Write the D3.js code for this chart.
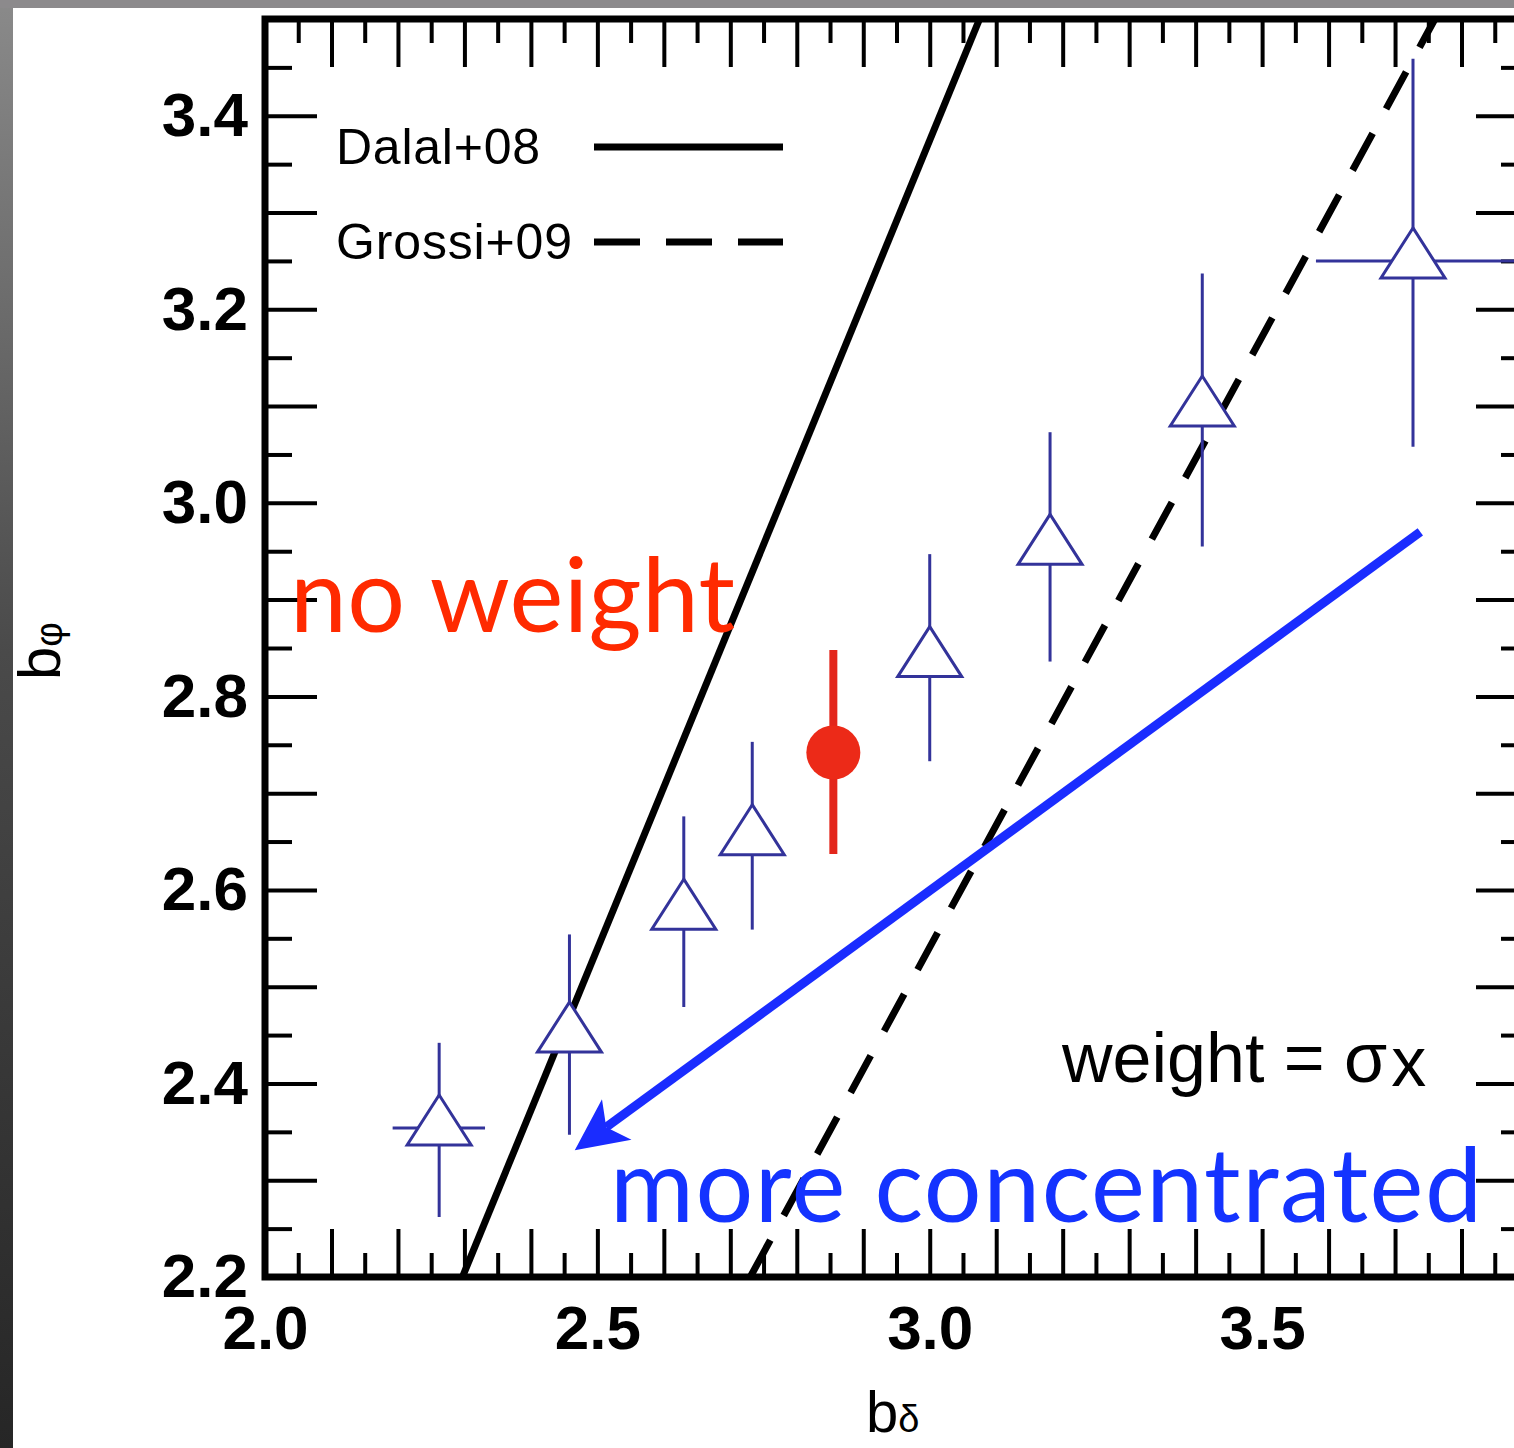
<!DOCTYPE html>
<html>
<head>
<meta charset="utf-8">
<script src="https://cdn.jsdelivr.net/npm/d3@7"></script>
<style>
  html, body { margin: 0; padding: 0; background: #4a4a4a; }
  svg { display: block; }
</style>
</head>
<body>
<svg id="chart" width="1514" height="1448"></svg>
<script>
// bias comparison: b_phi vs b_delta

var xDomain = [2.0, 3.9];
var yDomain = [2.2, 3.5];
var xLabelTicks = [2.0, 2.5, 3.0, 3.5];
var yLabelTicks = [2.2, 2.4, 2.6, 2.8, 3.0, 3.2, 3.4];

// weighted points (open triangles)
var triX   = [2.262, 2.458, 2.630, 2.733, 3.000, 3.181, 3.410, 3.727];
var triY   = [2.354, 2.450, 2.577, 2.654, 2.838, 2.954, 3.097, 3.250];
var triYLo = [2.262, 2.347, 2.479, 2.559, 2.733, 2.836, 2.955, 3.058];
var triYHi = [2.442, 2.554, 2.676, 2.753, 2.947, 3.073, 3.237, 3.459];
var triXLo = [2.192, null, null, null, null, null, null, 3.581];
var triXHi = [2.331, null, null, null, null, null, null, 3.950];

// no weight point (red)
var redX = [2.855], redY = [2.742], redYLo = [2.637], redYHi = [2.848];

// model lines
var dalalX = [2.297, 3.075], dalalY = [2.2, 3.5];
var grossiX = [2.730, 3.760], grossiY = [2.2, 3.5];

// arrow annotation (data coords)
var arrowFrom = [3.738, 2.970], arrowTo = [2.466, 2.331];

var svg = d3.select('#chart');

// background strips + white panel
var grad = svg.append('defs').append('linearGradient')
    .attr('id', 'bg').attr('x1', 0).attr('y1', 0).attr('x2', 0).attr('y2', 1);
grad.append('stop').attr('offset', '0%').attr('stop-color', '#8a8a8a');
grad.append('stop').attr('offset', '45%').attr('stop-color', '#4a4a4a');
grad.append('stop').attr('offset', '100%').attr('stop-color', '#262626');
svg.append('rect').attr('width', 1514).attr('height', 1448).attr('fill', 'url(#bg)');
svg.append('rect').attr('x', 0).attr('y', 0).attr('width', 1514).attr('height', 8).attr('fill', '#8c8a8c');
svg.append('rect').attr('x', 13).attr('y', 8).attr('width', 1501).attr('height', 1440).attr('fill', '#fff');

var x = d3.scaleLinear().domain(xDomain).range([265, 1528]);
var y = d3.scaleLinear().domain(yDomain).range([1277, 19]);

svg.select('defs').append('clipPath').attr('id', 'plot')
  .append('rect').attr('x', x(xDomain[0])).attr('y', y(yDomain[1]))
  .attr('width', x(xDomain[1]) - x(xDomain[0])).attr('height', y(yDomain[0]) - y(yDomain[1]));

// tick marks every 0.05, long every 0.1
var xTicks = d3.range(0, 39).map(function(i) { return +(2.0 + i * 0.05).toFixed(2); });
var yTicks = d3.range(0, 27).map(function(i) { return +(2.2 + i * 0.05).toFixed(2); });
function isLong(v) { return Math.abs(Math.round(v * 10) - v * 10) < 1e-6; }

function tickAxis(axisFn, scale, vals, len, transform) {
  var g = svg.append('g').attr('transform', transform)
    .call(axisFn(scale).tickValues(vals).tickSize(-len).tickFormat(''));
  g.select('.domain').remove();
  g.selectAll('.tick line').attr('stroke', '#000').attr('stroke-width', 4);
  return g;
}
var longX = xTicks.filter(isLong), shortX = xTicks.filter(function(v) { return !isLong(v); });
var longY = yTicks.filter(isLong), shortY = yTicks.filter(function(v) { return !isLong(v); });

tickAxis(d3.axisBottom, x, longX, 48, 'translate(0,' + y(yDomain[0]) + ')');
tickAxis(d3.axisBottom, x, shortX, 24, 'translate(0,' + y(yDomain[0]) + ')');
tickAxis(d3.axisTop, x, longX, 48, 'translate(0,' + y(yDomain[1]) + ')');
tickAxis(d3.axisTop, x, shortX, 24, 'translate(0,' + y(yDomain[1]) + ')');
tickAxis(d3.axisLeft, y, longY, 52, 'translate(' + x(xDomain[0]) + ',0)');
tickAxis(d3.axisLeft, y, shortY, 27, 'translate(' + x(xDomain[0]) + ',0)');
tickAxis(d3.axisRight, y, longY, 52, 'translate(' + x(xDomain[1]) + ',0)');
tickAxis(d3.axisRight, y, shortY, 27, 'translate(' + x(xDomain[1]) + ',0)');

// frame
svg.append('rect')
  .attr('x', x(xDomain[0])).attr('y', y(yDomain[1]))
  .attr('width', x(xDomain[1]) - x(xDomain[0]))
  .attr('height', y(yDomain[0]) - y(yDomain[1]))
  .attr('fill', 'none').attr('stroke', '#000').attr('stroke-width', 7);

// tick labels
var xl = svg.append('g').attr('transform', 'translate(0,' + y(yDomain[0]) + ')')
  .call(d3.axisBottom(x).tickValues(xLabelTicks).tickSize(0).tickPadding(28).tickFormat(d3.format('.1f')));
xl.select('.domain').remove();
xl.selectAll('text').attr('font-family', 'Liberation Sans, Arial, sans-serif')
  .attr('font-weight', 'bold').attr('font-size', 62).attr('fill', '#000');

var yl = svg.append('g').attr('transform', 'translate(' + x(xDomain[0]) + ',0)')
  .call(d3.axisLeft(y).tickValues(yLabelTicks).tickSize(0).tickPadding(17).tickFormat(d3.format('.1f')));
yl.select('.domain').remove();
yl.selectAll('text').attr('font-family', 'Liberation Sans, Arial, sans-serif')
  .attr('font-weight', 'bold').attr('font-size', 62).attr('fill', '#000');

// axis titles
var xt = svg.append('text').attr('x', 866).attr('y', 1432)
  .attr('font-family', 'Liberation Sans, Arial, sans-serif').attr('font-size', 58);
xt.append('tspan').text('b');
xt.append('tspan').attr('font-size', 38).text('δ');

var yt = svg.append('text').attr('transform', 'translate(60,' + 680 + ') rotate(-90)')
  .attr('font-family', 'Liberation Sans, Arial, sans-serif').attr('font-size', 60);
yt.append('tspan').text('b');
yt.append('tspan').attr('font-size', 38).attr('dy', 2).text('φ');

var plot = svg.append('g').attr('clip-path', 'url(#plot)');

// model lines
var line = d3.line().x(function(d) { return x(d[0]); }).y(function(d) { return y(d[1]); });
plot.append('path').datum(d3.zip(dalalX, dalalY)).attr('d', line)
  .attr('stroke', '#000').attr('stroke-width', 7).attr('fill', 'none');
plot.append('path').datum(d3.zip(grossiX, grossiY)).attr('d', line)
  .attr('stroke', '#000').attr('stroke-width', 7).attr('fill', 'none')
  .attr('stroke-dasharray', '42,28');

// triangle points
var blue = '#33339a';
var tri = d3.range(triX.length).map(function(i) {
  return {x: triX[i], y: triY[i], lo: triYLo[i], hi: triYHi[i], xlo: triXLo[i], xhi: triXHi[i]};
});
plot.selectAll('line.ey').data(tri).enter().append('line')
  .attr('x1', function(d) { return x(d.x); }).attr('x2', function(d) { return x(d.x); })
  .attr('y1', function(d) { return y(d.lo); }).attr('y2', function(d) { return y(d.hi); })
  .attr('stroke', blue).attr('stroke-width', 3);
plot.selectAll('line.ex').data(tri.filter(function(d) { return d.xlo !== null; })).enter().append('line')
  .attr('x1', function(d) { return x(d.xlo); }).attr('x2', function(d) { return x(d.xhi); })
  .attr('y1', function(d) { return y(d.y); }).attr('y2', function(d) { return y(d.y); })
  .attr('stroke', blue).attr('stroke-width', 3);
plot.selectAll('path.tri').data(tri).enter().append('path')
  .attr('d', 'M0,-33L32,17L-32,17Z')
  .attr('transform', function(d) { return 'translate(' + x(d.x) + ',' + y(d.y) + ')'; })
  .attr('fill', '#fff').attr('stroke', blue).attr('stroke-width', 3);

// red point
var red = d3.range(redX.length).map(function(i) {
  return {x: redX[i], y: redY[i], lo: redYLo[i], hi: redYHi[i]};
});
plot.selectAll('line.er').data(red).enter().append('line')
  .attr('x1', function(d) { return x(d.x); }).attr('x2', function(d) { return x(d.x); })
  .attr('y1', function(d) { return y(d.lo); }).attr('y2', function(d) { return y(d.hi); })
  .attr('stroke', '#e3261b').attr('stroke-width', 8);
plot.selectAll('circle.r').data(red).enter().append('circle')
  .attr('cx', function(d) { return x(d.x); }).attr('cy', function(d) { return y(d.y); })
  .attr('r', 27).attr('fill', '#ec2a18');

// legend
var lg = svg.append('g').attr('font-family', 'Liberation Sans, Arial, sans-serif').attr('font-size', 50);
lg.append('text').attr('x', 336).attr('y', 164).attr('textLength', 204).text('Dalal+08');
lg.append('line').attr('x1', 594).attr('x2', 783).attr('y1', 147).attr('y2', 147)
  .attr('stroke', '#000').attr('stroke-width', 7);
lg.append('text').attr('x', 336).attr('y', 259).attr('textLength', 236).text('Grossi+09');
lg.append('line').attr('x1', 594).attr('x2', 783).attr('y1', 242).attr('y2', 242)
  .attr('stroke', '#000').attr('stroke-width', 7).attr('stroke-dasharray', '46,26');

// annotation texts
var wt = svg.append('text').attr('x', 1062).attr('y', 1082)
  .attr('font-family', 'Liberation Sans, Arial, sans-serif').attr('font-size', 70);
wt.append('tspan').text('weight = σ');
wt.append('tspan').attr('dx', 4).attr('dy', 4).text('x');

svg.append('text').attr('x', 290).attr('y', 632)
  .attr('font-family', 'Lato, sans-serif').attr('font-size', 102).attr('fill', '#ff2a00')
  .attr('textLength', 445).text('no weight');

svg.append('text').attr('x', 610).attr('y', 1222)
  .attr('font-family', 'Lato, sans-serif').attr('font-size', 102).attr('fill', '#1433ff')
  .attr('textLength', 872).text('more concentrated');

// arrow
var p0 = [x(arrowFrom[0]), y(arrowFrom[1])], p1 = [x(arrowTo[0]), y(arrowTo[1])];
var dx = p1[0] - p0[0], dy = p1[1] - p0[1], L = Math.sqrt(dx * dx + dy * dy);
var u = [dx / L, dy / L], n = [-u[1], u[0]];
var hl = 52, hw = 25, notch = 13;
var base = [p1[0] - u[0] * hl, p1[1] - u[1] * hl];
var nb = [p1[0] - u[0] * (hl - notch), p1[1] - u[1] * (hl - notch)];
svg.append('line').attr('x1', p0[0]).attr('y1', p0[1]).attr('x2', nb[0]).attr('y2', nb[1])
  .attr('stroke', '#1a2cff').attr('stroke-width', 9);
svg.append('path')
  .attr('d', 'M' + p1 + 'L' + [base[0] + n[0] * hw, base[1] + n[1] * hw] + 'L' + nb +
             'L' + [base[0] - n[0] * hw, base[1] - n[1] * hw] + 'Z')
  .attr('fill', '#1a2cff');
</script>
</body>
</html>
